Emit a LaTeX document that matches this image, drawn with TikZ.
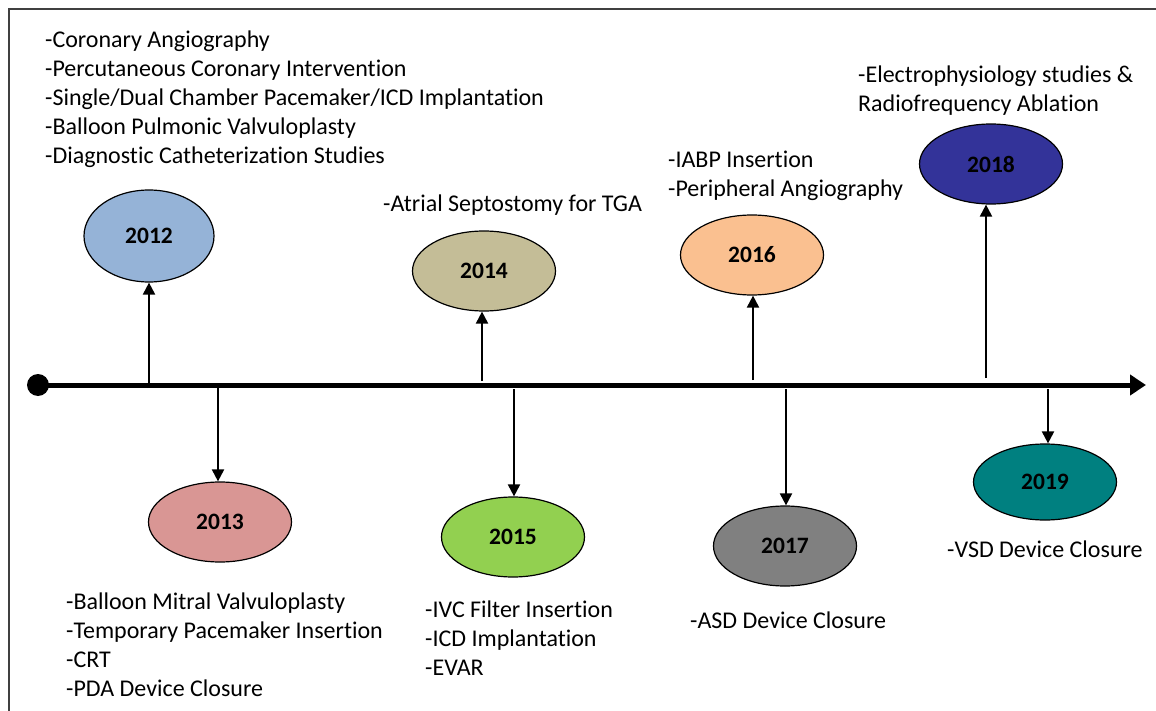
\documentclass[tikz,border=0pt]{standalone}
\usepackage{fontspec}
\setmainfont[Ligatures={NoCommon}]{Carlito}
\usetikzlibrary{shapes.geometric,arrows.meta}

\definecolor{c2012}{HTML}{95B3D7}
\definecolor{c2013}{HTML}{D99694}
\definecolor{c2014}{HTML}{C4BD97}
\definecolor{c2015}{HTML}{92D050}
\definecolor{c2016}{HTML}{FAC090}
\definecolor{c2017}{HTML}{808080}
\definecolor{c2018}{HTML}{333399}
\definecolor{c2019}{HTML}{008080}

\tikzstyle{year}=[ellipse, draw=black, line width=1.2pt, inner sep=0,
                  minimum width=143pt, minimum height=80pt,
                  font=\fontsize{23.5}{29}\selectfont\bfseries]
\tikzstyle{event}=[anchor=west, align=left, inner sep=0,
                   font=\fontsize{24}{29}\selectfont]
\tikzstyle{link}=[line width=2pt, -{Triangle[width=12pt,length=12pt]}]

\begin{document}
\begin{tikzpicture}[x=1pt, y=-1pt]

  \useasboundingbox (0,0) rectangle (1156,711);
  \fill[white] (0,0) rectangle (1156,711);

  % frame
  \draw[line width=1.5pt, black!75] (9,711) -- (9,9) -- (1156,9);

  % time axis
  \node (start) at (38,385) [circle, fill=black, inner sep=0, minimum size=22pt] {};
  \coordinate (end) at (1146,385);
  \draw [line width=5pt, -{Triangle[width=20pt,length=16pt]}] (start.center) -- (end);

  %%%%%%%%%%%%%%%%%%%%%%%%%%%%%%
  % years
  \node (y2012) at (149,236) [year, fill=c2012, minimum width=130pt, minimum height=92pt] {2012};
  \node (y2013) at (220,522) [year, fill=c2013] {2013};
  \node (y2014) at (484,271) [year, fill=c2014] {2014};
  \node (y2015) at (513,537) [year, fill=c2015] {2015};
  \node (y2016) at (752,255) [year, fill=c2016] {2016};
  \node (y2017) at (785,546) [year, fill=c2017] {2017};
  \node (y2018) at (991,164) [year, fill=c2018] {2018};
  \node (y2019) at (1045,482) [year, fill=c2019, minimum height=76pt] {2019};

  % stems
  \coordinate (s2012) at (149,385);
  \coordinate (s2013) at (218,385);
  \coordinate (s2014) at (482,381);
  \coordinate (s2015) at (514,389);
  \coordinate (s2016) at (753,380);
  \coordinate (s2017) at (786,389);
  \coordinate (s2018) at (986,378);
  \coordinate (s2019) at (1048,389);

  \draw [link] (s2012) -- (s2012 |- y2012.south);
  \draw [link] (s2013) -- (s2013 |- y2013.north);
  \draw [link] (s2014) -- (s2014 |- y2014.south);
  \draw [link] (s2015) -- (s2015 |- y2015.north);
  \draw [link] (s2016) -- (s2016 |- y2016.south);
  \draw [link] (s2017) -- (s2017 |- y2017.north);
  \draw [link] (s2018) -- (s2018 |- y2018.south);
  \draw [link] (s2019) -- (s2019 |- y2019.north);

  %%%%%%%%%%%%%%%%%%%%%%%%%%%%%%
  % procedures
  \node (t2012) at (45,99) [event] {-Coronary Angiography\\
    -Percutaneous Coronary Intervention\\
    -Single/Dual Chamber Pacemaker/ICD Implantation\\
    -Balloon Pulmonic Valvuloplasty\\
    -Diagnostic Catheterization Studies};
  \node (t2013) at (66,645) [event] {-Balloon Mitral Valvuloplasty\\
    -Temporary Pacemaker Insertion\\
    -CRT\\
    -PDA Device Closure};
  \node (t2014) at (383,205) [event] {-Atrial Septostomy for TGA};
  \node (t2015) at (425,638) [event] {-IVC Filter Insertion\\
    -ICD Implantation\\
    -EVAR};
  \node (t2016) at (668,176) [event] {-IABP Insertion\\
    -Peripheral Angiography};
  \node (t2017) at (690,620) [event] {-ASD Device Closure};
  \node (t2018) at (858,91) [event] {-Electrophysiology studies \&\\
    Radiofrequency Ablation};
  \node (t2019) at (947,549) [event] {-VSD Device Closure};

\end{tikzpicture}
\end{document}
